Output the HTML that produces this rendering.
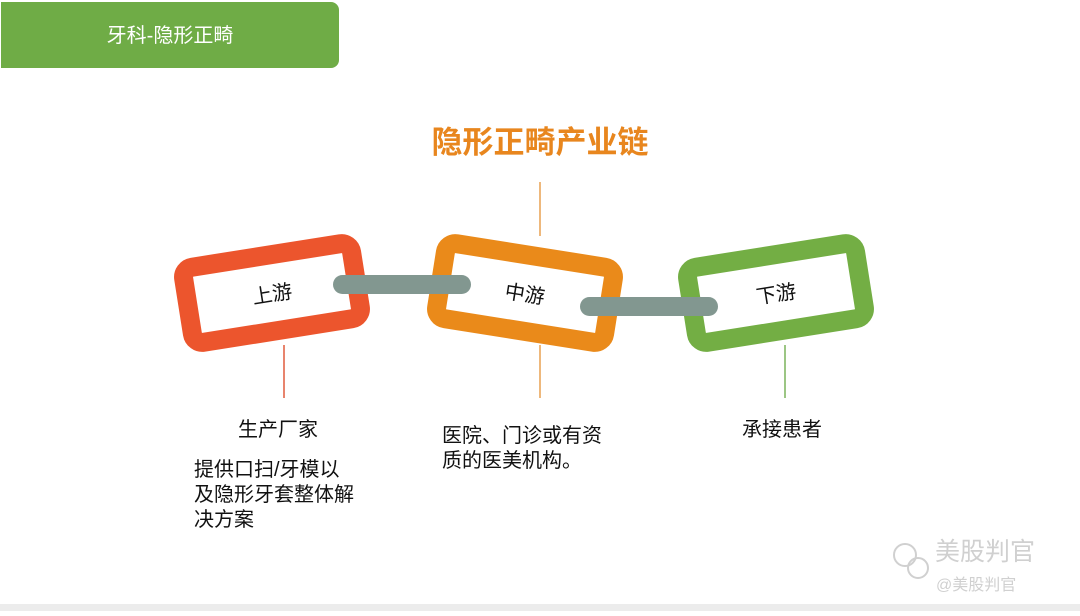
<!DOCTYPE html>
<html><head><meta charset="utf-8"><style>
body{margin:0;width:1080px;height:611px;overflow:hidden;background:#fff;font-family:"Liberation Sans","Noto Sans CJK SC",sans-serif}
</style></head><body>
<svg width="1080" height="611" xmlns="http://www.w3.org/2000/svg" font-family="Liberation Sans, Noto Sans CJK SC, sans-serif">
<rect width="1080" height="611" fill="#fff"/>
<rect x="0" y="604" width="1080" height="7" fill="#ececec"/>
<rect x="1" y="2" width="338" height="66" rx="8" fill="#6fac46"/>
<rect x="1" y="2" width="20" height="66" fill="#6fac46"/>
<text x="170" y="42" fill="#fff" font-size="20" text-anchor="middle">牙科-隐形正畸</text>
<text x="540" y="153" fill="#e8861e" font-size="31" font-weight="bold" text-anchor="middle">隐形正畸产业链</text>
<line x1="540" y1="182" x2="540" y2="236" stroke="#e9a050" stroke-width="1.5"/>
<line x1="284" y1="345" x2="284" y2="398" stroke="#e05a3c" stroke-width="1.5"/>
<line x1="540" y1="345" x2="540" y2="398" stroke="#e9a050" stroke-width="1.5"/>
<line x1="785" y1="345" x2="785" y2="398" stroke="#7ab35a" stroke-width="1.5"/>
<g transform="translate(272,293) rotate(-9)">
<rect x="-85" y="-38" width="170" height="76" rx="10" fill="none" stroke="#ec552d" stroke-width="19"/>
<text x="0" y="8" font-size="20" text-anchor="middle" fill="#111">上游</text>
</g>
<g transform="translate(525,293) rotate(9)">
<rect x="-85" y="-38" width="170" height="76" rx="10" fill="none" stroke="#ea8a1a" stroke-width="19"/>
<text x="0" y="8" font-size="20" text-anchor="middle" fill="#111">中游</text>
</g>
<g transform="translate(776,293) rotate(-9)">
<rect x="-85" y="-38" width="170" height="76" rx="10" fill="none" stroke="#73ae44" stroke-width="19"/>
<text x="0" y="8" font-size="20" text-anchor="middle" fill="#111">下游</text>
</g>
<rect x="333" y="275" width="138" height="19" rx="9.5" fill="#829790"/>
<rect x="580" y="297" width="138" height="19" rx="9.5" fill="#829790"/>
<g font-size="20" fill="#111">
<text x="278" y="436" text-anchor="middle">生产厂家</text>
<text x="194" y="476">提供口扫/牙模以</text>
<text x="194" y="501">及隐形牙套整体解</text>
<text x="194" y="526">决方案</text>
<text x="442" y="442">医院、门诊或有资</text>
<text x="442" y="467">质的医美机构。</text>
<text x="782" y="436" text-anchor="middle">承接患者</text>
</g>
<g fill="#d0d0d0" font-size="25">
<text x="935" y="560">美股判官</text>
<text x="936" y="590" font-size="16">@美股判官</text>
</g>
<circle cx="905" cy="555" r="11" fill="none" stroke="#d0d0d0" stroke-width="2"/>
<circle cx="918" cy="568" r="10" fill="none" stroke="#d0d0d0" stroke-width="2"/>
</svg>
</body></html>
